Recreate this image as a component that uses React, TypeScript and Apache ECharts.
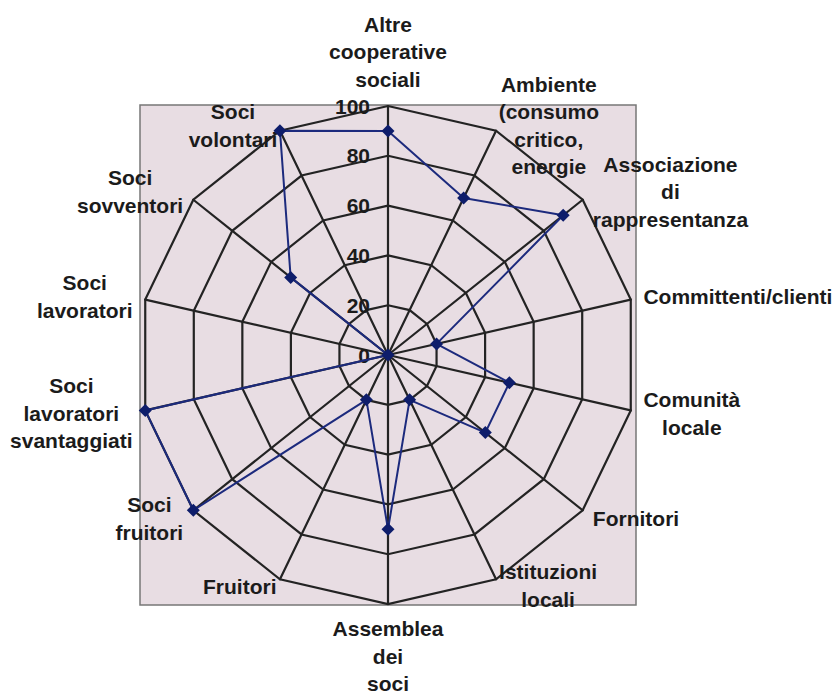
import React, { useEffect, useRef } from 'react';
import * as echarts from 'echarts';

// Indicators, clockwise from the top
const categories: string[] = [
  'Altre\ncooperative\nsociali',
  'Ambiente\n(consumo\ncritico,\nenergie',
  'Associazione\ndi\nrappresentanza',
  'Committenti/clienti',
  'Comunità\nlocale',
  'Fornitori',
  'Istituzioni\nlocali',
  'Assemblea\ndei\nsoci',
  'Fruitori',
  'Soci\nfruitori',
  'Soci\nlavoratori\nsvantaggiati',
  'Soci\nlavoratori',
  'Soci\nsovventori',
  'Soci\nvolontari',
];
const values: number[] = [90, 70, 90, 20, 50, 50, 20, 70, 20, 100, 100, 0, 50, 100];
const axisMin = 0;
const axisMax = 100;
const axisSplits = 5;

// Layout: distance of each indicator name from its outer vertex (same order as categories)
const nameGaps: number[] = [13, 6, 13, 13, 13, 13, 7, 11, 8, 13, 13, 13, 13, 6];

const FONT = '"Liberation Sans", Arial, sans-serif';
const TEXT = '#1b1b1b';
const GRID = '#232323';

export default function App() {
  const ref = useRef<HTMLDivElement>(null);
  useEffect(() => {
    if (!ref.current) return;
    const chart = echarts.init(ref.current, null, { renderer: 'svg' });
    // ECharts lays radar indicators counter-clockwise; reorder for clockwise
    const order = [0, ...categories.slice(1).map((_, i) => categories.length - 1 - i)];
    chart.setOption({
      animation: false,
      graphic: {
        elements: [
          {
            type: 'rect',
            z: -10,
            silent: true,
            shape: { x: 140, y: 105, width: 496, height: 500 },
            style: { fill: '#e8dde3', stroke: '#777777', lineWidth: 1.5 },
          },
        ],
      },
      radar: {
        center: [388, 355],
        radius: 249,
        startAngle: 90,
        shape: 'polygon',
        splitNumber: axisSplits,
        nameGap: 13,
        axisName: {
          color: TEXT,
          formatter: (name: string) =>
            name
              .split('\n')
              .map((l) => `{c|${l}}`)
              .join('\n'),
          rich: {
            c: {
              align: 'center',
              fontFamily: FONT,
              fontWeight: 'bold',
              fontSize: 21,
              lineHeight: 27.5,
              color: TEXT,
            },
          },
        },
        axisLine: { lineStyle: { color: GRID, width: 2.2 } },
        splitLine: { lineStyle: { color: GRID, width: 2.2 } },
        splitArea: { show: false },
        axisTick: { show: false },
        axisLabel: { show: false },
        indicator: order.map((idx, k) => ({
          name: categories[idx],
          min: axisMin,
          max: axisMax,
          nameGap: nameGaps[idx],
          ...(k === 0
            ? {
                axisLabel: {
                  show: true,
                  fontFamily: FONT,
                  fontWeight: 'bold',
                  fontSize: 21,
                  color: TEXT,
                  margin: 18,
                },
              }
            : {}),
        })),
      },
      series: [
        {
          type: 'radar',
          symbol: 'diamond',
          symbolSize: 13,
          lineStyle: { color: '#1c2a7d', width: 2 },
          itemStyle: { color: '#0e1d6b' },
          data: [{ value: order.map((i) => values[i]) }],
        },
      ],
    });
    return () => chart.dispose();
  }, []);
  return (
    <div
      ref={ref}
      style={{ position: 'absolute', left: 0, top: 0, width: 836, height: 694, background: '#fff' }}
    />
  );
}
